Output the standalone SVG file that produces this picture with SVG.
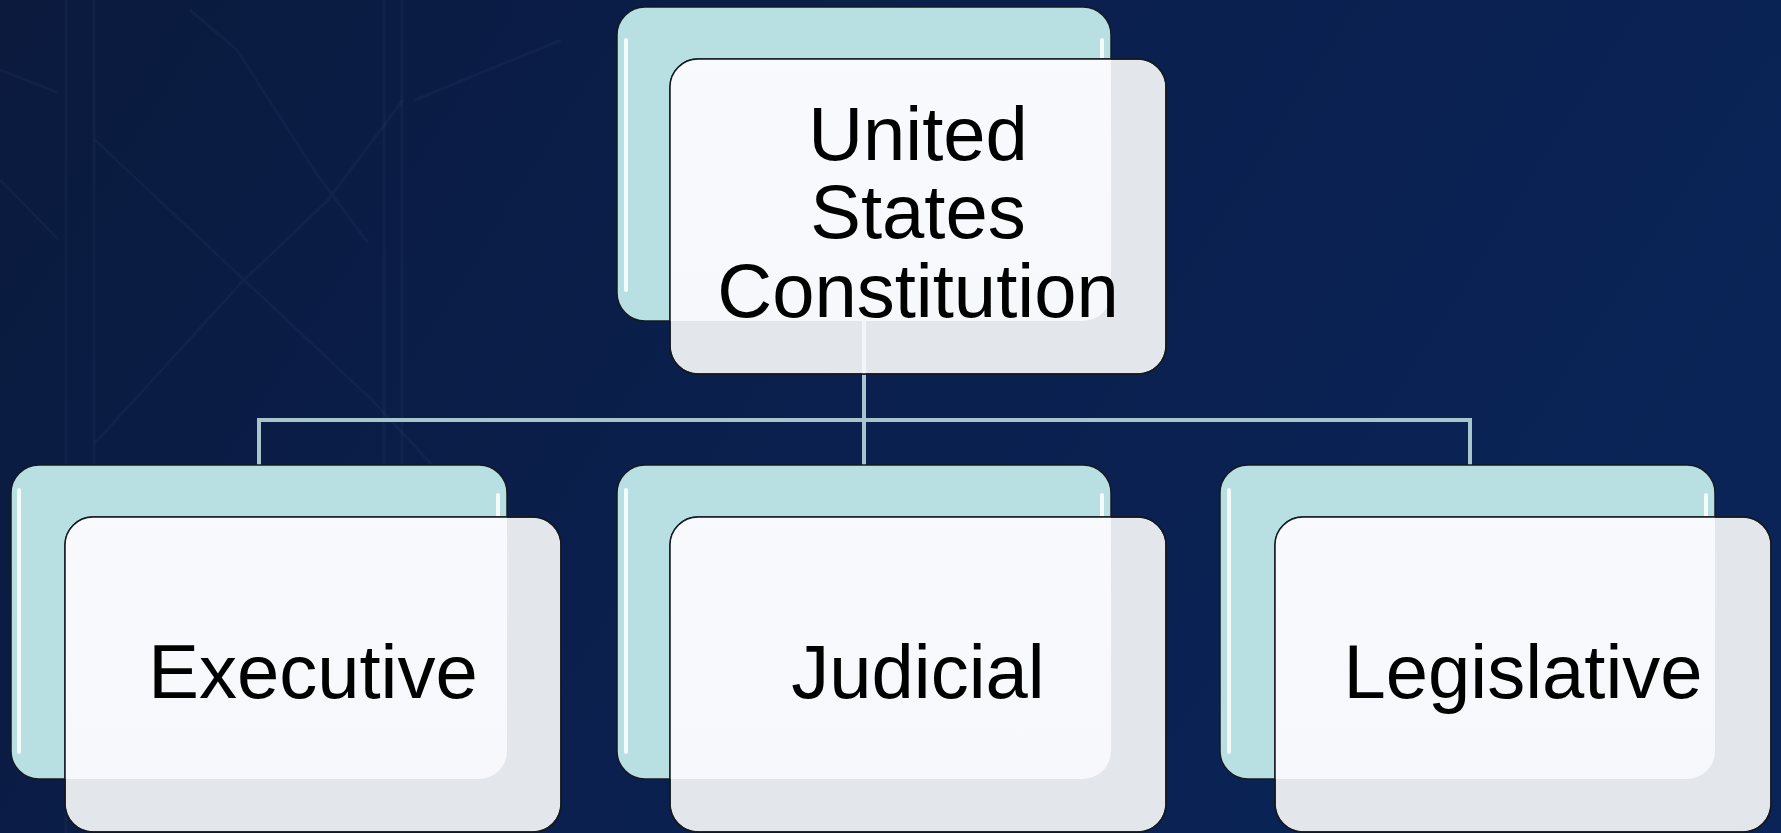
<svg xmlns="http://www.w3.org/2000/svg" width="1781" height="833" viewBox="0 0 1781 833">
<defs>
<linearGradient id="bg" x1="0" y1="0" x2="1" y2="0.3">
<stop offset="0" stop-color="#0b1a3d"/>
<stop offset="0.5" stop-color="#0a1f4c"/>
<stop offset="1" stop-color="#0a2457"/>
</linearGradient>
<linearGradient id="frontFill" x1="0" y1="0" x2="0" y2="1">
<stop offset="0" stop-color="#f8fafd"/>
<stop offset="1" stop-color="#f6f8fc"/>
</linearGradient>
<clipPath id="cTop"><rect x="670" y="59" width="496" height="315" rx="28"/></clipPath>
<clipPath id="cExe"><rect x="65" y="517" width="496" height="315" rx="28"/></clipPath>
<clipPath id="cJud"><rect x="670" y="517" width="496" height="315" rx="28"/></clipPath>
<clipPath id="cLeg"><rect x="1275" y="517" width="496" height="315" rx="28"/></clipPath>
</defs>
<style>
.back{fill:#b8dfe2;stroke:#151a22;stroke-width:1.5}
.front{fill:#e3e6ea;stroke:#151a22;stroke-width:1.5}
.lit{fill:url(#frontFill)}
.hl{stroke:#ffffff;stroke-width:4;stroke-linecap:round;opacity:0.85;fill:none}
.lbl{font-family:"Liberation Sans",Arial,sans-serif;font-size:76px;fill:#000;text-anchor:middle}
.conn{stroke:#a8c4cc;stroke-width:4;fill:none}
.bgl{stroke:#6f8fc0;stroke-opacity:0.06;stroke-width:3;fill:none}
</style>
<rect x="0" y="0" width="1781" height="833" fill="url(#bg)"/>
<g id="background-lines">
<path class="bgl" d="M66,0 V833 M94,0 V833 M384,0 V833 M402,0 V833"/>
<path class="bgl" d="M95,140 L372,400 L520,560 M95,443 L241,283 L328,200 L403,100 M415,100 L561,40 M190,10 L237,50 L316,173 L368,243 M0,70 L59,93 M0,180 L59,240"/>
</g>
<g id="connectors">
<path class="conn" d="M864,321 V465 M259,465 V420 H1470 V465"/>
</g>
<g id="node-top">
<rect class="back" x="617" y="7" width="494" height="314" rx="28"/>
<path class="hl" d="M626,40 V290 M1102,40 V58"/>
<rect class="front" x="670" y="59" width="496" height="315" rx="28"/>
<rect class="lit" x="617" y="7" width="494" height="314" rx="28" clip-path="url(#cTop)"/>
<line x1="864" y1="321" x2="864" y2="374" stroke="#ffffff" stroke-width="4" opacity="0.6"/>
<rect x="670" y="59" width="496" height="315" rx="28" fill="none" stroke="#151a22" stroke-width="1.5"/>
<text class="lbl" x="918" y="160">United</text>
<text class="lbl" x="918" y="238">States</text>
<text class="lbl" x="918" y="317">Constitution</text>
</g>
<g id="node-executive">
<rect class="back" x="11" y="465" width="496" height="314" rx="28"/>
<path class="hl" d="M19,490 V752 M498,495 V516"/>
<rect class="front" x="65" y="517" width="496" height="315" rx="28"/>
<rect class="lit" x="11" y="465" width="496" height="314" rx="28" clip-path="url(#cExe)"/>
<rect x="65" y="517" width="496" height="315" rx="28" fill="none" stroke="#151a22" stroke-width="1.5"/>
<text class="lbl" x="313" y="698">Executive</text>
</g>
<g id="node-judicial">
<rect class="back" x="617" y="465" width="494" height="314" rx="28"/>
<path class="hl" d="M626,490 V752 M1102,495 V516"/>
<rect class="front" x="670" y="517" width="496" height="315" rx="28"/>
<rect class="lit" x="617" y="465" width="494" height="314" rx="28" clip-path="url(#cJud)"/>
<rect x="670" y="517" width="496" height="315" rx="28" fill="none" stroke="#151a22" stroke-width="1.5"/>
<text class="lbl" x="918" y="698">Judicial</text>
</g>
<g id="node-legislative">
<rect class="back" x="1220" y="465" width="495" height="314" rx="28"/>
<path class="hl" d="M1229,490 V752 M1706,495 V516"/>
<rect class="front" x="1275" y="517" width="496" height="315" rx="28"/>
<rect class="lit" x="1220" y="465" width="495" height="314" rx="28" clip-path="url(#cLeg)"/>
<rect x="1275" y="517" width="496" height="315" rx="28" fill="none" stroke="#151a22" stroke-width="1.5"/>
<text class="lbl" x="1523" y="698">Legislative</text>
</g>
</svg>
